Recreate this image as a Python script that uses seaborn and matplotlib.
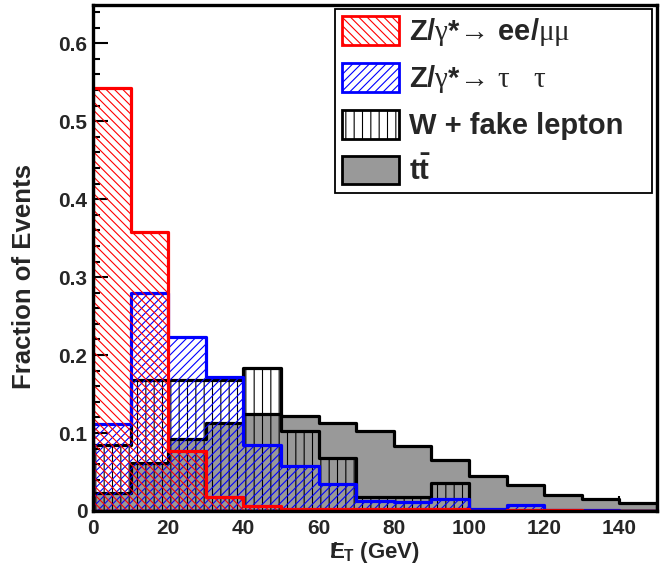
import numpy as np
import pandas as pd
import matplotlib
matplotlib.use("Agg")
import matplotlib.pyplot as plt
from matplotlib.patches import Patch
from matplotlib.ticker import MultipleLocator
import seaborn as sns

# ---- data (fraction of events per 10 GeV bin, 0-150 GeV) ----
bin_edges = list(range(0, 160, 10))
z_ee_mumu = [0.542, 0.358, 0.077, 0.018, 0.006, 0.003, 0.002, 0.002, 0.002, 0.002, 0.0, 0.001, 0.001, 0.0, 0.0]
z_tautau  = [0.112, 0.280, 0.223, 0.172, 0.085, 0.058, 0.035, 0.013, 0.011, 0.015, 0.002, 0.008, 0.001, 0.001, 0.0]
w_fake    = [0.085, 0.168, 0.168, 0.168, 0.184, 0.103, 0.068, 0.018, 0.018, 0.036, 0.0, 0.0, 0.0, 0.0, 0.0]
ttbar     = [0.023, 0.061, 0.092, 0.113, 0.124, 0.122, 0.113, 0.103, 0.083, 0.065, 0.045, 0.033, 0.020, 0.015, 0.010]
labels = [r"Z/$\mathrm{\gamma}$*$\!\mathrm{\rightarrow}\!$ ee/$\mathrm{\mu\mu}$",
          r"Z/$\mathrm{\gamma}$*$\!\mathrm{\rightarrow}\!$ $\mathrm{\tau}$   $\mathrm{\tau}$",
          "W + fake lepton",
          r"$\mathbf{t\bar{t}}$"]

sns.set_style("white")
plt.rcParams["font.family"] = ["Liberation Sans", "DejaVu Sans"]
plt.rcParams["font.weight"] = "bold"
plt.rcParams["mathtext.fontset"] = "custom"
plt.rcParams["mathtext.rm"] = "Liberation Serif:weight=normal"
plt.rcParams["mathtext.it"] = "Liberation Serif:italic:weight=normal"
plt.rcParams["mathtext.bf"] = "Liberation Sans:weight=bold"
plt.rcParams["hatch.linewidth"] = 0.8

centers = [(a + b) / 2 for a, b in zip(bin_edges[:-1], bin_edges[1:])]

fig = plt.figure(figsize=(6.7, 5.75), dpi=100)
ax = fig.add_axes([93 / 670, 64 / 575, 564 / 670, 506 / 575])

styles = [
    (ttbar, dict(facecolor="#999999", edgecolor="black", hatch=None)),
    (w_fake, dict(facecolor="none", edgecolor="black", hatch="||")),
    (z_tautau, dict(facecolor="none", edgecolor="blue", hatch="////")),
    (z_ee_mumu, dict(facecolor="none", edgecolor="red", hatch="\\\\\\\\")),
]
for vals, st in styles:
    df = pd.DataFrame({"met": centers, "w": vals})
    kw = dict(facecolor=st["facecolor"], edgecolor=st["edgecolor"], linewidth=2.3)
    if st["hatch"]:
        kw["hatch"] = st["hatch"]
    sns.histplot(data=df, x="met", weights="w", bins=bin_edges, element="step",
                 fill=True, ax=ax, color=st["edgecolor"], **kw)

ax.set_xlim(0, 150)
ax.set_ylim(0, 0.649)
ax.xaxis.set_major_locator(MultipleLocator(20))
ax.xaxis.set_minor_locator(MultipleLocator(5))
ax.yaxis.set_major_locator(MultipleLocator(0.1))
ax.yaxis.set_minor_locator(MultipleLocator(0.02))
ax.yaxis.set_major_formatter(matplotlib.ticker.FuncFormatter(lambda v, p: "0" if abs(v) < 1e-9 else f"{v:.1f}"))
ax.tick_params(which="both", direction="in", left=True, bottom=True, top=False, right=False,
               width=1.5, color="black")
ax.tick_params(which="major", length=11, labelsize=15)
ax.tick_params(which="minor", length=5)
ax.tick_params(axis="x", pad=6)
ax.tick_params(axis="y", pad=4)
for s in ax.spines.values():
    s.set_linewidth(2.4)
    s.set_color("black")
    s.set_zorder(5)

ax.set_xlabel(r"$\mathbf{/}\!\!\!\mathbf{E}_{\mathbf{T}}$ (GeV)", fontsize=16, fontweight="bold")
ax.set_ylabel("Fraction of Events", fontsize=18.5, fontweight="bold")
ax.xaxis.set_label_coords(0.5, -0.058)
ax.yaxis.set_label_coords(-0.101, 0.464)

handles = [
    Patch(facecolor="white", edgecolor="red", hatch="\\\\\\\\", linewidth=2),
    Patch(facecolor="white", edgecolor="blue", hatch="////", linewidth=2),
    Patch(facecolor="white", edgecolor="black", hatch="||", linewidth=2),
    Patch(facecolor="#999999", edgecolor="black", linewidth=2),
]
leg = ax.legend(handles, labels, loc="upper left", bbox_to_anchor=(0.429, 0.628, 0.562, 0.364),
                mode="expand", fontsize=21, frameon=True,
                fancybox=False, framealpha=1, edgecolor="black",
                handlelength=1.95, handleheight=1.12, handletextpad=0.35,
                labelspacing=0.51, borderpad=0.25, borderaxespad=0.0)
leg.get_frame().set_linewidth(1.3)
for t in leg.get_texts():
    t.set_fontweight("bold")

fig.savefig("out.png", dpi=100)
